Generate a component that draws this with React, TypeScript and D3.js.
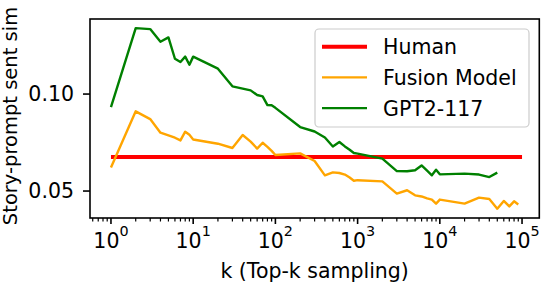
import React from "react";
import * as d3 from "d3";

const kValues = [
  1, 2, 3, 4, 5, 6, 7, 8, 9, 10, 20, 30, 40, 50, 60, 70, 80, 90, 100, 200, 300,
  400, 500, 600, 700, 800, 900, 1000, 2000, 3000, 4000, 5000, 6000, 7000, 8000,
  9000, 10000, 20000, 30000, 40000, 50000, 60000, 70000, 80000, 90000,
];
const fusion = [
  0.0621, 0.0911, 0.0871, 0.0801, 0.0787, 0.0775, 0.0761, 0.0806, 0.079,
  0.0766, 0.0744, 0.0722, 0.0789, 0.0755, 0.0719, 0.0749, 0.0728, 0.0707,
  0.0686, 0.0694, 0.0655, 0.0581, 0.0596, 0.0593, 0.0585, 0.057, 0.0553,
  0.0556, 0.055, 0.0487, 0.0504, 0.0478, 0.0472, 0.0462, 0.0456, 0.0435,
  0.0456, 0.0435, 0.0466, 0.0459, 0.0409, 0.0449, 0.0421, 0.0447, 0.0431,
];
const gpt2 = [
  0.0933, 0.134, 0.1335, 0.127, 0.1292, 0.1182, 0.1165, 0.1193, 0.1151,
  0.1193, 0.1131, 0.104, 0.1028, 0.1019, 0.0995, 0.0988, 0.0943, 0.0942,
  0.0929, 0.083, 0.0807, 0.0776, 0.073, 0.0753, 0.073, 0.0713, 0.0696, 0.0693,
  0.0667, 0.0603, 0.0602, 0.0607, 0.0632, 0.0605, 0.0581, 0.061, 0.0586,
  0.059, 0.0585, 0.0572, 0.0595,
];
const humanK = [1, 100000];
const human = [0.0675, 0.0675];
const yTicks = [0.05, 0.1];
const xMajor = [0, 1, 2, 3, 4, 5];

const W = 542;
const H = 286;
const left = 90;
const right = 539.3;
const top = 19;
const bottom = 218;
const FONT = "DejaVu Sans, sans-serif";
const FS = 20.5;

const x = d3
  .scaleLog()
  .domain([Math.pow(10, -0.255), Math.pow(10, 5.21)])
  .range([left, right]);
const y = d3.scaleLinear().domain([0.0361, 0.1387]).range([bottom, top]);

type Pt = [number, number];
const line = d3
  .line<Pt>()
  .x((d) => x(d[0]))
  .y((d) => y(d[1]));

const series = [
  { name: "Human", color: "red", width: 4, pts: humanK.map((k, i) => [k, human[i]] as Pt) },
  { name: "Fusion Model", color: "orange", width: 2.4, pts: fusion.map((v, i) => [kValues[i], v] as Pt) },
  { name: "GPT2-117", color: "green", width: 2.4, pts: gpt2.map((v, i) => [kValues[i], v] as Pt) },
];

// minor ticks for the log axis
const minor: number[] = [];
for (let e = -1; e <= 5; e++) {
  for (let m = 2; m <= 9; m++) {
    const v = m * Math.pow(10, e);
    if (v >= x.domain()[0] && v <= x.domain()[1]) minor.push(v);
  }
}

export default function App() {
  return (
    <svg
      width={W}
      height={H}
      style={{ position: "absolute", left: 0, top: 0, background: "#fff" }}
      fontFamily={FONT}
    >
      <rect width={W} height={H} fill="#fff" />
      {series.map((s) => (
        <path
          key={s.name}
          d={line(s.pts) || ""}
          fill="none"
          stroke={s.color}
          strokeWidth={s.width}
          strokeLinejoin="round"
        />
      ))}

      {/* frame */}
      <rect
        x={left}
        y={top}
        width={right - left}
        height={bottom - top}
        fill="none"
        stroke="#000"
        strokeWidth={1.6}
      />

      {/* y axis */}
      {yTicks.map((t) => (
        <g key={t}>
          <line x1={left - 7} x2={left} y1={y(t)} y2={y(t)} stroke="#000" strokeWidth={1.6} />
          <text x={left - 16} y={y(t) + 7.4} textAnchor="end" fontSize={FS}>
            {t.toFixed(2)}
          </text>
        </g>
      ))}

      {/* x axis */}
      {minor.map((v) => (
        <line key={v} x1={x(v)} x2={x(v)} y1={bottom} y2={bottom + 3.5} stroke="#000" strokeWidth={1.2} />
      ))}
      {xMajor.map((e) => {
        const px = x(Math.pow(10, e));
        return (
          <g key={e}>
            <line x1={px} x2={px} y1={bottom} y2={bottom + 6} stroke="#000" strokeWidth={1.6} />
            <text x={px} y={248} textAnchor="middle" fontSize={FS}>
              <tspan>10</tspan>
              <tspan dy={-12} fontSize={FS * 0.7}>
                {e}
              </tspan>
            </text>
          </g>
        );
      })}

      <text x={(left + right) / 2} y={278} textAnchor="middle" fontSize={FS}>
        k (Top-k sampling)
      </text>
      <text
        transform={`translate(16.5,116) rotate(-90)`}
        textAnchor="middle"
        fontSize={19.5}
      >
        Story-prompt sent sim
      </text>

      {/* legend */}
      <rect
        x={315}
        y={29}
        width={214}
        height={98}
        rx={4}
        fill="#fff"
        fillOpacity={0.8}
        stroke="#ccc"
        strokeWidth={1.2}
      />
      {series.map((s, i) => {
        const ly = 46.7 + i * 30.7;
        return (
          <g key={s.name}>
            <line x1={322} x2={367} y1={ly} y2={ly} stroke={s.color} strokeWidth={s.width} />
            <text x={383} y={ly + 7.4} fontSize={FS}>
              {s.name}
            </text>
          </g>
        );
      })}
    </svg>
  );
}
